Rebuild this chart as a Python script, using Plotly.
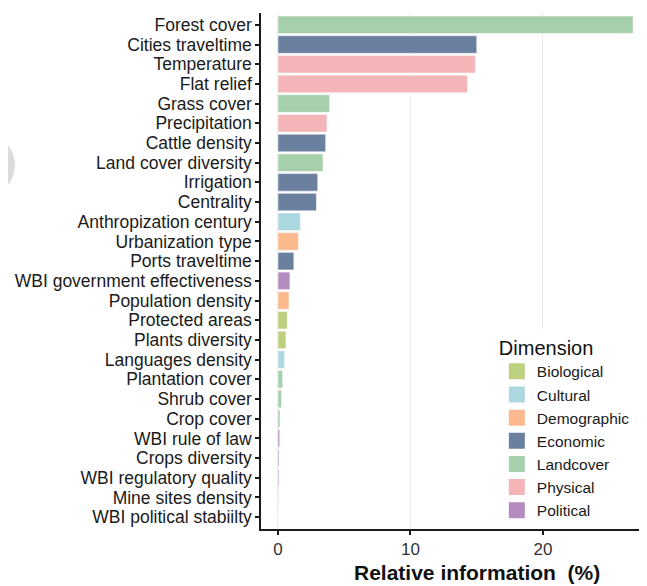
import plotly.graph_objects as go

variables = [
    "Forest cover", "Cities traveltime", "Temperature", "Flat relief", "Grass cover",
    "Precipitation", "Cattle density", "Land cover diversity", "Irrigation", "Centrality",
    "Anthropization century", "Urbanization type", "Ports traveltime",
    "WBI government effectiveness", "Population density", "Protected areas",
    "Plants diversity", "Languages density", "Plantation cover", "Shrub cover",
    "Crop cover", "WBI rule of law", "Crops diversity", "WBI regulatory quality",
    "Mine sites density", "WBI political stabiilty",
]
values = [
    26.8, 15.0, 14.9, 14.3, 3.9,
    3.7, 3.6, 3.4, 3.0, 2.9,
    1.7, 1.55, 1.2,
    0.9, 0.83, 0.7,
    0.6, 0.5, 0.35, 0.27,
    0.15, 0.13, 0.08, 0.07,
    0.02, 0.01,
]
dimensions = [
    "Landcover", "Economic", "Physical", "Physical", "Landcover",
    "Physical", "Economic", "Landcover", "Economic", "Economic",
    "Cultural", "Demographic", "Economic",
    "Political", "Demographic", "Biological",
    "Biological", "Cultural", "Landcover", "Landcover",
    "Landcover", "Political", "Political", "Political",
    "Economic", "Political",
]
dim_order = ["Biological", "Cultural", "Demographic", "Economic", "Landcover", "Physical", "Political"]
dim_colors = ["#bdd07f", "#acd8e0", "#fcb98e", "#6b7f9e", "#a6cfac", "#f3b5b8", "#b58cbf"]

FONT = "Liberation Sans, Arial, sans-serif"

fig = go.Figure()
for dim, col in zip(dim_order, dim_colors):
    xs = [v for v, d in zip(values, dimensions) if d == dim]
    ys = [n for n, d in zip(variables, dimensions) if d == dim]
    fig.add_trace(go.Bar(
        x=xs, y=ys, orientation="h", name=dim, legendgroup=dim, showlegend=False,
        marker=dict(color=col, line=dict(color="white", width=0.5)),
    ))
    # legend entry with a larger square swatch
    fig.add_trace(go.Scatter(
        x=[None], y=[None], mode="markers", name=dim, legendgroup=dim, showlegend=True,
        marker=dict(symbol="square", size=16, color=col, line=dict(width=0)),
        hoverinfo="skip",
    ))

# the page adds an 8px body margin, so the figure is 8px smaller than the window
W, H = 639, 578
L, R, T, B = 253, 0, 5, 57

fig.update_layout(
    width=W, height=H,
    margin=dict(l=L, r=R, t=T, b=B, autoexpand=False),
    barmode="relative",
    bargap=0.11,
    plot_bgcolor="white",
    paper_bgcolor="white",
    font=dict(family=FONT, color="#1a1a1a", size=17),
    showlegend=True,
    legend=dict(
        title=dict(text="Dimension", font=dict(size=20, color="#111111")),
        font=dict(size=15.5, color="#1a1a1a"),
        x=0.611, y=0.388, xanchor="left", yanchor="top",
        bgcolor="white", bordercolor="rgba(0,0,0,0)", borderwidth=0,
        traceorder="normal",
    ),
    xaxis=dict(
        range=[-1.28, 27.85],
        tickvals=[0, 10, 20],
        ticktext=["0", "10", "20"],
        showgrid=True, gridcolor="#ebebeb", gridwidth=1,
        zeroline=False,
        showline=True, linecolor="#1a1a1a", linewidth=1.5,
        ticks="outside", ticklen=4, tickcolor="#1a1a1a", tickwidth=1.5,
        tickfont=dict(size=17, color="#333333"),
    ),
    yaxis=dict(
        categoryorder="array",
        categoryarray=list(reversed(variables)),
        tickmode="array",
        tickvals=variables,
        ticktext=variables,
        range=[-0.6, len(variables) - 0.4],
        showgrid=False, zeroline=False,
        showline=True, linecolor="#1a1a1a", linewidth=1.5,
        ticks="outside", ticklen=4, tickcolor="#1a1a1a", tickwidth=1.5,
        tickfont=dict(size=17.5, color="#1a1a1a"),
    ),
)

pw = W - L - R
ph = H - T - B
def px_x(p):
    return (p - 8 - L) / pw
def px_y(p):
    return (H - B - (p - 8)) / ph

# x-axis title (placed as in the original, slightly right of the panel centre)
fig.add_annotation(text="<b>Relative information  (%)</b>", xref="paper", yref="paper",
                   x=px_x(477), y=px_y(572), xanchor="center", yanchor="middle",
                   showarrow=False, font=dict(size=21, color="#111111"))

# faint grey blob at the left edge of the original image
fig.add_shape(type="circle", xref="paper", yref="paper",
              x0=px_x(-40), x1=px_x(15), y0=px_y(195), y1=px_y(135),
              fillcolor="#dcdcdc", line=dict(width=0), layer="below")

fig.write_html("out.html")
